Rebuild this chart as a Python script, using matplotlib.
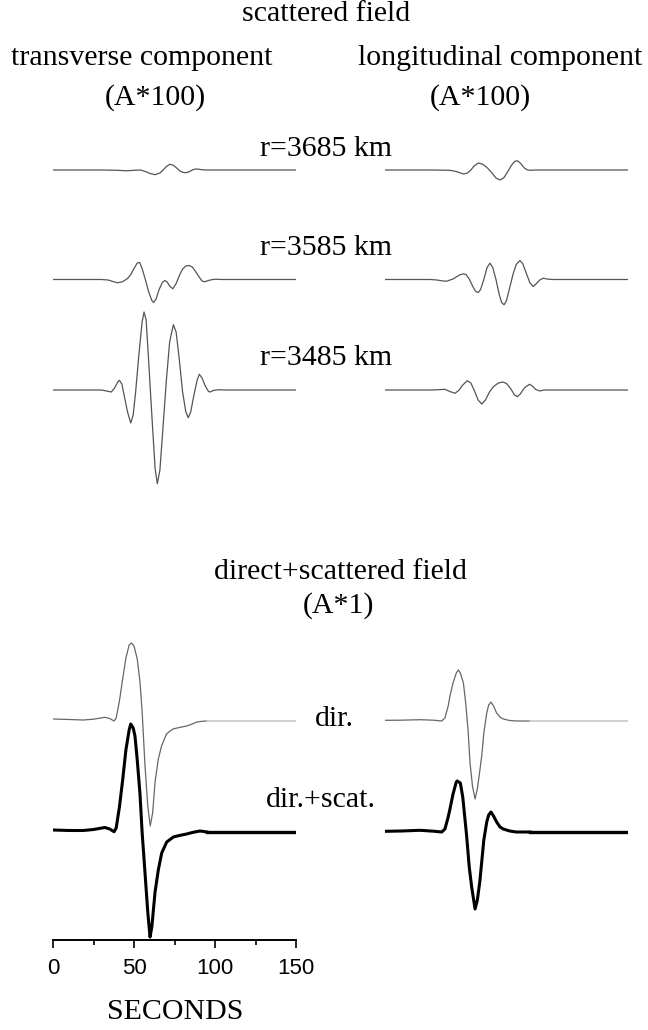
import numpy as np
import matplotlib
matplotlib.use("Agg")
import matplotlib.pyplot as plt

# scattered field, amplitudes magnified x100 (time in s, amplitude in plot units)
t_tr_3685 = [0, 30, 40, 45, 50, 54, 57, 60, 63, 66, 68, 70, 72, 74, 76, 78, 80, 82, 84, 86, 88, 90, 92, 95, 150]
a_tr_3685 = [0, 0, -0.3, -0.8, -0.3, 0, -1.5, -3.5, -4.7, -3, 0, 3.5, 5.7, 5, 2.5, -0.5, -2.3, -2.7, -1.8, 0, 1, 0.8, 0.2, 0, 0]

t_tr_3585 = [0, 30, 34, 37, 40, 43, 46, 48, 50, 52, 53.5, 55, 57, 59, 61, 62, 63.5, 65.5, 67.5, 69, 70.5,
             72, 74, 76, 78, 80, 82, 84, 86, 88, 90, 92, 93.5, 95, 97, 100, 104, 150]
a_tr_3585 = [0, 0, -0.5, -2, -3.3, -2.2, 1, 5, 11, 16.5, 17, 11, 0, -12, -21, -23, -20, -10, -3, -1, -2.5,
             -6.5, -9.3, -4, 4, 10.5, 13.5, 14, 12.5, 8, 3, -1.5, -2.3, -1.5, -0.5, 0.3, 0, 0]

t_tr_3485 = [0, 30, 33, 36, 38, 40, 41, 42.5, 44, 46, 48, 49.5, 51, 53, 55, 56.2, 57.5, 59, 61, 63, 64.4,
             66, 68, 70, 72, 74.3, 76, 78, 80, 82, 83.5, 85, 87, 89, 90.3, 92, 94, 96, 97, 99, 102, 106, 150]
a_tr_3485 = [0, 0, -1, -2, 2, 8, 9.7, 6, -6, -22, -33, -25, -2, 35, 68, 78, 70, 30, -25, -78, -93.7,
             -80, -35, 10, 48, 65.3, 58, 30, -2, -22, -27.7, -22, -5, 10, 15.7, 12, 4, -1.5, -2, -0.5, 0.3, 0, 0]

t_lo_3685 = [0, 28, 40, 44, 48.4, 51, 53, 55, 57.6, 60, 63, 66, 68.5, 71, 73.5, 76, 78, 80, 81.7, 83.5,
             86, 88, 90, 93, 150]
a_lo_3685 = [0, 0, -0.3, -1.5, -4, -3, 0, 4, 7, 6, 2.5, -3, -8, -10, -7.5, -1, 4.5, 8.5, 9.3, 7,
             2, 0, -0.3, 0, 0]

t_lo_3585 = [0, 28, 32, 36, 38, 42, 46, 48.4, 50, 52, 54.5, 56, 57.6, 59, 61, 63, 64.8, 66.5, 68.5, 70.5,
             72, 73.5, 75, 77, 79, 81, 83.3, 85, 87.5, 89.5, 91.5, 93.5, 95.5, 97.7, 100, 103, 150]
a_lo_3585 = [0, 0, -0.5, -1.5, -1.7, 0.5, 4.5, 5.7, 5, 0.5, -8, -12, -13, -10, 0, 12, 16.3, 12, 0, -15,
             -23, -25.3, -21, -8, 5, 15, 19, 16, 5, -3.5, -7, -4, -0.5, 1.3, 0.5, 0, 0]

t_lo_3485 = [0, 28, 33, 37, 40, 43.2, 45.5, 48, 50.8, 53, 55, 57.5, 59.7, 62, 64.5, 67, 70, 72.7, 75,
             77.5, 80, 81.7, 83.5, 86, 89.1, 91, 93, 95.7, 98, 150]
a_lo_3485 = [0, 0, 0.3, 0.7, -1.5, -3.3, -0.5, 5, 9.3, 7, 0, -10, -14, -10, -2, 3.5, 7, 8, 6.5,
             1.5, -5, -6.7, -4, 2, 5.7, 4, 0.5, -1, 0, 0]

# direct and direct+scattered field, amplitudes x1
t_tr_dir = [0, 10, 18.7, 25, 32, 35, 37.7, 39, 41, 43, 45, 47, 48.5, 50, 52, 53.7, 55, 56.8, 58.5, 60,
            61.5, 63, 65, 67, 70, 74, 78, 82.5, 86, 88.7, 92, 95]
a_tr_dir = [2, 1.5, 1, 1.8, 3.7, 2.5, 0, 3, 20, 42, 63, 76, 78, 75, 62, 39, 10, -45, -85, -105,
            -92, -61, -38, -25, -13, -8, -6.5, -5, -3, -1, -0.3, 0]

t_tr_sum = [0, 10, 18.7, 25, 32, 35, 37.7, 39, 41, 43, 45, 47, 48, 49.5, 50.6, 52, 53.7, 55, 56.8, 58.5,
            59.9, 61, 63, 65, 67.1, 70.2, 74.3, 78, 82.5, 86, 90.7, 93, 95]
a_tr_sum = [2, 1.5, 1.5, 2.5, 4.5, 3, 0.3, 4, 25, 52, 82, 102, 108, 104, 96, 72, 38, 0, -41, -80,
            -105, -95, -60, -38, -21, -10, -5, -3.5, -2, -0.5, 1, 0.5, 0]

t_lo_dir = [0, 10, 21.6, 30, 35, 37, 39, 40.1, 42, 44, 45.3, 46.5, 48.4, 50, 51.3, 52.5, 54, 55.6, 57,
            58.5, 59.7, 61, 62.8, 64, 65.4, 67, 68.9, 71, 73, 77, 81, 89.5]
a_lo_dir = [0.7, 0.8, 1.3, 0.8, 0, 3, 15, 25, 38, 48, 51, 48, 38, 15, -10, -42, -65, -78, -68,
            -50, -35, -12, 8, 16, 19, 15, 8, 4, 2, 0.5, 0, 0]

t_lo_sum = [0, 10, 21.6, 30, 35, 37, 39, 40.1, 42, 44, 44.6, 46.5, 48, 50.4, 52, 53.5, 55.6, 57, 58.5,
            59.7, 61, 62.8, 64, 65.4, 67, 68.9, 71, 73, 77, 81, 89.5]
a_lo_sum = [0.7, 1, 1.7, 0.8, 0, 3, 15, 23, 38, 50, 51, 49, 35, -4, -35, -55, -77, -68, -50,
            -30, -8, 10, 17, 20, 16, 10, 5, 3, 1, 0, 0]

# trace baselines (plot units above the time axis)
off_3685, off_3585, off_3485 = 770, 660.5, 550
off_dir, off_sum = 219, 108

W, H = 648, 1030
fig = plt.figure(figsize=(W / 100, H / 100), dpi=100)
serif = "Liberation Serif"

ax_l = fig.add_axes([53 / W, 1 - 940 / H, 243 / W, 810 / H])
ax_r = fig.add_axes([385 / W, 1 - 940 / H, 243 / W, 810 / H])
for ax in (ax_l, ax_r):
    ax.set_xlim(0, 150)
    ax.set_ylim(0, 810)
    ax.patch.set_visible(False)

scat_kw = dict(color="#555555", lw=0.9)
ax_l.plot(t_tr_3685, np.array(a_tr_3685) + off_3685, **scat_kw)
ax_l.plot(t_tr_3585, np.array(a_tr_3585) + off_3585, **scat_kw)
ax_l.plot(t_tr_3485, np.array(a_tr_3485) + off_3485, **scat_kw)
ax_r.plot(t_lo_3685, np.array(a_lo_3685) + off_3685, **scat_kw)
ax_r.plot(t_lo_3585, np.array(a_lo_3585) + off_3585, **scat_kw)
ax_r.plot(t_lo_3485, np.array(a_lo_3485) + off_3485, **scat_kw)

for ax, td, ad, ts, as_ in ((ax_l, t_tr_dir, a_tr_dir, t_tr_sum, a_tr_sum),
                           (ax_r, t_lo_dir, a_lo_dir, t_lo_sum, a_lo_sum)):
    ax.plot(td, np.array(ad) + off_dir, color="#666666", lw=0.9)
    ax.plot([td[-1], 150], [off_dir, off_dir], color="#c8c8c8", lw=1.2)
    ax.plot(ts, np.array(as_) + off_sum, color="black", lw=2.2)
    ax.plot([ts[-1], 150], [off_sum, off_sum], color="black", lw=2.4)

# time axis only on the left panel
for s in ("top", "right", "left"):
    ax_l.spines[s].set_visible(False)
ax_l.spines["bottom"].set_linewidth(1.4)
ax_l.set_yticks([])
ax_l.set_xticks([0, 50, 100, 150])
ax_l.set_xticks([25, 75, 125], minor=True)
ax_l.tick_params(axis="x", which="major", length=6, width=1.2, pad=7, labelsize=16)
ax_l.tick_params(axis="x", which="minor", length=3.5, width=1.2)
for lab in ax_l.get_xticklabels():
    lab.set_fontfamily("Liberation Sans")
ax_r.axis("off")


def label(x, y, s):
    fig.text(x / W, 1 - y / H, s, ha="center", va="center", fontsize=21.5, family=serif)


label(326, 14, "scattered field")
label(142, 58, "transverse component")
label(500, 58, "longitudinal component")
label(155, 98, "(A*100)")
label(480, 98, "(A*100)")
label(326, 149, "r=3685 km")
label(326, 248, "r=3585 km")
label(326, 358, "r=3485 km")
label(340, 572, "direct+scattered field")
label(338, 606, "(A*1)")
label(334, 719, "dir.")
label(321, 800, "dir.+scat.")
label(175, 1012, "SECONDS")

fig.savefig("out.png", dpi=100)
